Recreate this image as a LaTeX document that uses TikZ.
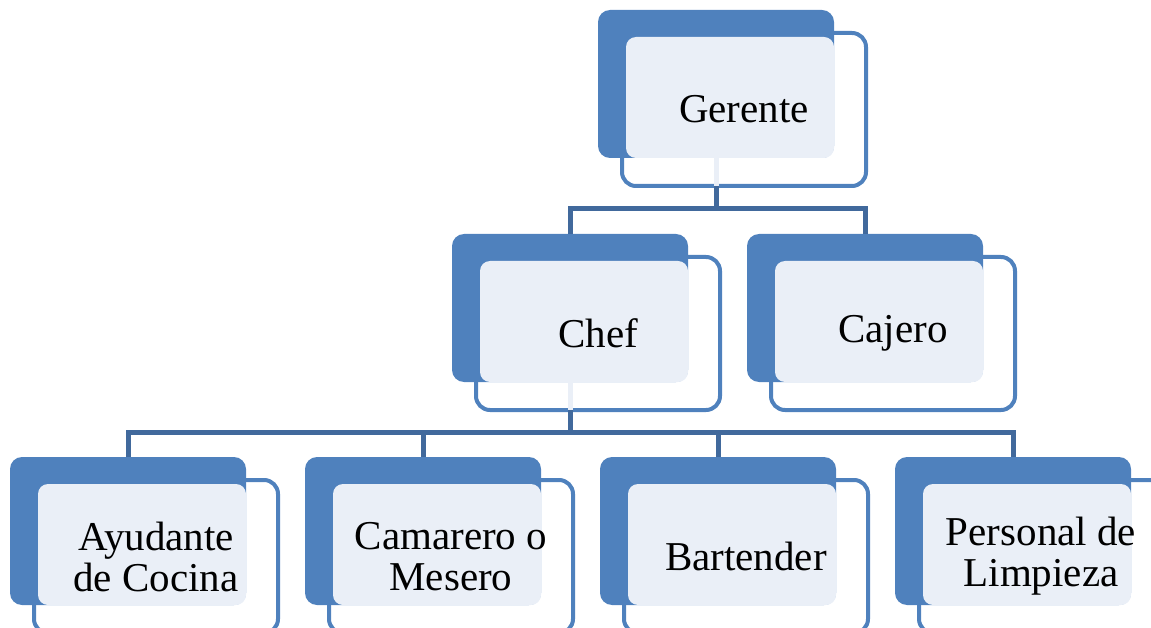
\documentclass[tikz,border=0pt]{standalone}
\usepackage{fontspec}
\setmainfont{Liberation Serif}
\usetikzlibrary{calc}
\definecolor{accent}{HTML}{4F81BD}
\definecolor{lightfill}{HTML}{EAEFF7}
\definecolor{connc}{HTML}{41699C}
\tikzset{
  backbox/.style={fill=accent, draw=none, rounded corners=12pt, minimum width=236pt, minimum height=148pt, anchor=north west, inner sep=0pt, outer sep=0pt},
  framebox/.style={draw=accent, line width=4pt, rounded corners=14pt, minimum width=244pt, minimum height=153pt, anchor=north west, inner sep=0pt, outer sep=0pt},
  lightbox/.style={fill=lightfill, draw=none, rounded corners=10pt, minimum width=208pt, minimum height=121pt, anchor=north west, inner sep=0pt, outer sep=0pt},
  lbl/.style={font=\fontsize{41}{41}\selectfont, align=center, text=black, inner sep=0pt},
  conn/.style={draw=connc, line width=5pt},
  faint/.style={draw=lightfill, line width=5pt},
}
\newcommand{\orgnode}[4]{%
  \node[backbox] (#1B) at (#2,#3) {};
  \node[framebox] (#1F) at (#2+24,#3+23) {};
  \node[lightbox] (#1L) at (#2+28,#3+27) {};
  \node[lbl] (#1T) at (#1F.center) {#4};
}
\begin{document}
\begin{tikzpicture}[x=1pt,y=-1pt]
\useasboundingbox (0,0) rectangle (1151,628);
\clip (0,0) rectangle (1151,628);
\orgnode{g}{598}{10}{Gerente}
\orgnode{c}{452}{234}{Chef}
\orgnode{k}{747}{234}{Cajero}
\orgnode{a}{10}{457}{Ayudante\\de Cocina}
\orgnode{m}{305}{457}{Camarero o\\Mesero}
\orgnode{b}{600}{457}{Bartender}
\orgnode{p}{895}{457}{Personal de\\Limpieza}
% connectors
\coordinate (j1) at (716,209);
\draw[faint] (gB.south) -- (gB.south |- gF.south);
\draw[conn] (gB.south |- gF.south) -- (j1);
\draw[conn] (cB.north) |- (j1) -| (kB.north);
\coordinate (j2) at (570,432);
\draw[faint] (cB.south) -- (cB.south |- cF.south);
\draw[conn] (cB.south |- cF.south) -- (j2);
\draw[conn] (aB.north) |- (j2) -| (pB.north);
\draw[conn] (mB.north) -- (mB.north |- j2);
\draw[conn] (bB.north) -- (bB.north |- j2);
\end{tikzpicture}
\end{document}
